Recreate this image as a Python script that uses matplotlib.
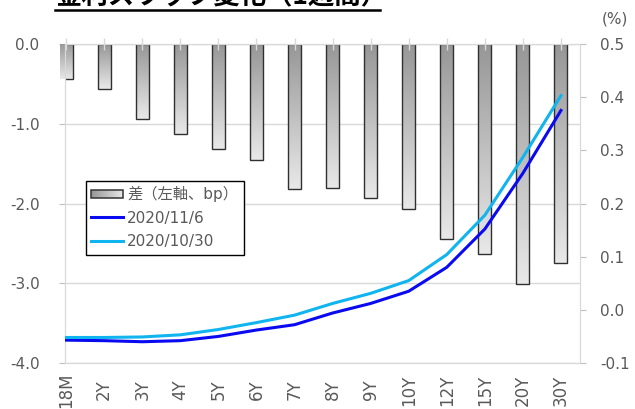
import numpy as np
import matplotlib
matplotlib.use('Agg')
import matplotlib.pyplot as plt
from matplotlib.colors import LinearSegmentedColormap
from matplotlib.lines import Line2D
from matplotlib.patches import Rectangle
from matplotlib.legend_handler import HandlerBase
from matplotlib.ticker import FormatStrFormatter

plt.rcParams['font.family'] = ['DejaVu Sans', 'Noto Sans CJK JP']
plt.rcParams['axes.unicode_minus'] = False

# data
tenors = ['18M', '2Y', '3Y', '4Y', '5Y', '6Y', '7Y', '8Y', '9Y', '10Y', '12Y', '15Y', '20Y', '30Y']
diff_bp = [-0.44, -0.56, -0.94, -1.13, -1.32, -1.45, -1.82, -1.81, -1.93, -2.07, -2.45, -2.63, -3.01, -2.75]
swap_1106 = [-0.057, -0.058, -0.060, -0.058, -0.050, -0.038, -0.028, -0.006, 0.012, 0.035, 0.080, 0.152, 0.257, 0.375]
swap_1030 = [-0.052, -0.052, -0.051, -0.047, -0.037, -0.024, -0.010, 0.012, 0.031, 0.055, 0.104, 0.178, 0.287, 0.403]

GRAY_TXT = '#595959'
GRID = '#d9d9d9'
TICK = '#bfbfbf'
bar_cmap = LinearSegmentedColormap.from_list('barfade', ['#979797', '#e8e8e8'])


class GradientHandler(HandlerBase):
    # legend key for the bars: horizontal grey fade with dark outline
    def create_artists(self, legend, orig_handle, xdescent, ydescent,
                       width, height, fontsize, trans):
        n = 40
        x0, y0 = -xdescent, -ydescent + height * 0.1
        h = height * 0.8
        arts = []
        for i in range(n):
            r = Rectangle((x0 + i * width / n, y0), width / n * 1.05, h,
                          facecolor=bar_cmap(i / (n - 1)), edgecolor='none',
                          linewidth=0, transform=trans)
            arts.append(r)
        arts.append(Rectangle((x0, y0), width, h, fill=False, edgecolor='#333333',
                              linewidth=1.1, transform=trans))
        return arts


fig = plt.figure(figsize=(6.35, 4.09), dpi=100)
ax = fig.add_axes([65 / 635, 1 - 363 / 409, 515 / 635, 319 / 409])

x = np.arange(len(tenors))
bars = ax.bar(x, diff_bp, width=0.34, facecolor='none', edgecolor='#303030',
              linewidth=1.0, zorder=2)
grad = np.linspace(0, 1, 64).reshape(-1, 1)
for b in bars:
    x0 = b.get_x()
    im = ax.imshow(grad, cmap=bar_cmap, extent=[x0, x0 + b.get_width(), b.get_height(), 0],
                   origin='upper', aspect='auto', zorder=1.9, interpolation='bilinear')
    im.set_clip_path(b)

ax.set_xlim(-0.03, 13.5)
ax.set_ylim(-4, 0)
ax.set_yticks([0, -1, -2, -3, -4])
ax.yaxis.set_major_formatter(FormatStrFormatter('%.1f'))
ax.grid(axis='y', color=GRID, lw=1)
ax.set_axisbelow(True)
ax.tick_params(axis='y', direction='out', length=4.3, width=0.8, color=TICK,
               labelcolor=GRAY_TXT, labelsize=11, pad=14)
ax.set_xticks(x)
ax.set_xticklabels(tenors, rotation=90, va='center')
ax.tick_params(axis='x', length=0, pad=19.5, labelsize=12, labelcolor=GRAY_TXT)

ax2 = ax.twinx()
ax2.plot(x, swap_1106, color='#0a0af0', lw=2.2, label='2020/11/6', zorder=3)
ax2.plot(x, swap_1030, color='#10b4ee', lw=2.2, label='2020/10/30', zorder=3)
ax2.set_ylim(-0.1, 0.5)
ax2.set_yticks([-0.1, 0.0, 0.1, 0.2, 0.3, 0.4, 0.5])
ax2.yaxis.set_major_formatter(FormatStrFormatter('%.1f'))
ax2.tick_params(axis='y', direction='out', length=4.3, width=0.8, color=TICK,
                labelcolor=GRAY_TXT, labelsize=11, pad=10)
# small category ticks on the zero line, drawn above the bars
ax2.xaxis.set_visible(True)
ax2.tick_params(axis='x', top=True, bottom=False, labeltop=False, labelbottom=False,
                direction='inout', length=8, width=1, color=GRID)

for a in (ax, ax2):
    for s in a.spines.values():
        s.set_color(GRID)

bar_key = Rectangle((0, 0), 1, 1)
handles = [bar_key] + ax2.get_lines()
labels = ['差（左軸、bp）', '2020/11/6', '2020/10/30']
leg = ax2.legend(handles, labels, loc='upper left',
                 bbox_to_anchor=(86 / 635, 1 - 181 / 409), bbox_transform=fig.transFigure,
                 borderaxespad=0, frameon=True, fancybox=False, edgecolor='black',
                 framealpha=1, fontsize=11, handlelength=2.1, handletextpad=0.25,
                 labelspacing=0.55, borderpad=0.35,
                 handler_map={bar_key: GradientHandler()})
leg.get_frame().set_linewidth(1.0)
for t in leg.get_texts():
    t.set_color(GRAY_TXT)

# title (cut off at the top in the original) with underline
fig.text(55 / 635, 1 - 4.5 / 409, '金利スワップ変化（1週間）', fontsize=19, fontweight='bold',
         family=['Noto Sans CJK JP'], ha='left', va='baseline', color='black')
fig.add_artist(Line2D([55 / 635, 380 / 635], [1 - 10 / 409] * 2, color='black', lw=1.8,
                      transform=fig.transFigure))
fig.text(615 / 635, 1 - 19 / 409, '(%)', ha='center', va='center', fontsize=11, color=GRAY_TXT)

fig.savefig('out.png', dpi=100)
